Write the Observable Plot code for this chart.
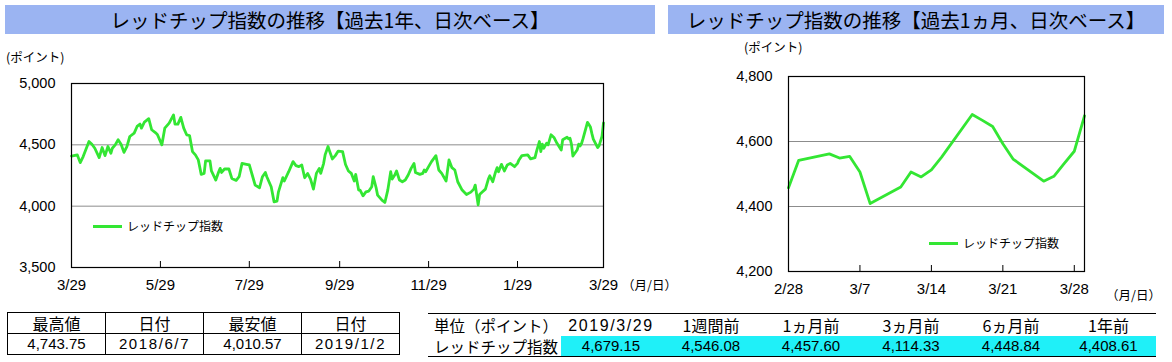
<!DOCTYPE html>
<html><head><meta charset="utf-8">
<script src="https://cdn.jsdelivr.net/npm/d3@7"></script>
<script src="https://cdn.jsdelivr.net/npm/@observablehq/plot@0.6"></script>
<style>
body{margin:0;background:#fff;font-family:"Noto Sans CJK JP",sans-serif;color:#000;}
#wrap{position:relative;width:1172px;height:362px;overflow:hidden;background:#fff;}
.abs{position:absolute;}
.title{background:#9bb4f2;height:29px;top:5px;font-size:19.5px;line-height:29px;text-align:center;white-space:nowrap;}
.unit{font-size:12.5px;line-height:16px;white-space:nowrap;}
.legend{font-size:12px;line-height:16px;white-space:nowrap;display:flex;align-items:center;}
.lg-line{display:inline-block;width:29px;height:3px;background:#33e633;margin-right:5px;}
table{border-collapse:collapse;}
#t1{left:7px;top:312px;}
#t1 td{border:1px solid #000;width:97px;height:20px;padding:0;text-align:center;line-height:20px;}
#t1 .h{font-size:16px;}
#t1 .v{font-family:"Liberation Sans",Arial,sans-serif;font-size:15px;}
#t2{left:428px;top:313px;border-top:1px solid #000;border-bottom:1px solid #000;}
#t2 td{padding:0;text-align:center;height:20px;line-height:20px;white-space:nowrap;}
#t2 .h{font-size:16px;}
#t2 .lab{text-align:left;padding-left:6px;width:127px;font-size:15.5px;}
#t2 .v{font-family:"Liberation Sans",Arial,sans-serif;font-size:15px;background:#1ff0f8;}
.date{font-family:"Liberation Sans",Arial,sans-serif;letter-spacing:1.6px;}
svg{position:absolute;top:0;}
</style></head>
<body>
<div id="wrap"></div>
<script>
const yearDates = ["2018-03-29","2018-04-02","2018-04-04","2018-04-06","2018-04-10","2018-04-12","2018-04-14","2018-04-17","2018-04-19","2018-04-21","2018-04-23","2018-04-25","2018-04-26","2018-04-28","2018-04-30","2018-05-02","2018-05-04","2018-05-06","2018-05-08","2018-05-11","2018-05-13","2018-05-15","2018-05-16","2018-05-18","2018-05-21","2018-05-23","2018-05-26","2018-05-27","2018-05-30","2018-06-01","2018-06-04","2018-06-07","2018-06-08","2018-06-10","2018-06-12","2018-06-14","2018-06-16","2018-06-18","2018-06-20","2018-06-22","2018-06-24","2018-06-26","2018-06-28","2018-06-29","2018-07-02","2018-07-03","2018-07-06","2018-07-08","2018-07-09","2018-07-10","2018-07-12","2018-07-15","2018-07-17","2018-07-20","2018-07-22","2018-07-24","2018-07-27","2018-07-29","2018-07-31","2018-08-02","2018-08-05","2018-08-07","2018-08-09","2018-08-10","2018-08-13","2018-08-15","2018-08-17","2018-08-18","2018-08-21","2018-08-22","2018-08-25","2018-08-28","2018-08-30","2018-09-01","2018-09-03","2018-09-05","2018-09-07","2018-09-09","2018-09-11","2018-09-13","2018-09-15","2018-09-16","2018-09-18","2018-09-19","2018-09-21","2018-09-22","2018-09-24","2018-09-26","2018-09-28","2018-10-01","2018-10-03","2018-10-05","2018-10-07","2018-10-09","2018-10-10","2018-10-12","2018-10-13","2018-10-15","2018-10-17","2018-10-19","2018-10-21","2018-10-22","2018-10-24","2018-10-25","2018-10-28","2018-10-30","2018-11-01","2018-11-03","2018-11-04","2018-11-06","2018-11-07","2018-11-09","2018-11-11","2018-11-13","2018-11-15","2018-11-17","2018-11-19","2018-11-20","2018-11-23","2018-11-25","2018-11-26","2018-11-27","2018-11-29","2018-12-01","2018-12-04","2018-12-06","2018-12-08","2018-12-11","2018-12-13","2018-12-15","2018-12-17","2018-12-19","2018-12-22","2018-12-25","2018-12-28","2018-12-30","2018-12-31","2019-01-02","2019-01-03","2019-01-05","2019-01-07","2019-01-09","2019-01-10","2019-01-12","2019-01-14","2019-01-15","2019-01-16","2019-01-18","2019-01-20","2019-01-22","2019-01-24","2019-01-27","2019-01-29","2019-01-30","2019-02-01","2019-02-05","2019-02-07","2019-02-10","2019-02-11","2019-02-13","2019-02-14","2019-02-15","2019-02-16","2019-02-18","2019-02-19","2019-02-21","2019-02-23","2019-02-25","2019-02-28","2019-03-01","2019-03-04","2019-03-05","2019-03-06","2019-03-07","2019-03-08","2019-03-11","2019-03-12","2019-03-13","2019-03-14","2019-03-15","2019-03-18","2019-03-19","2019-03-20","2019-03-21","2019-03-22","2019-03-25","2019-03-26","2019-03-27","2019-03-28","2019-03-29"];
const yearValues = [4408.61,4418,4355,4404,4527,4505,4472,4396,4478,4412,4486,4431,4472,4500,4541,4505,4439,4486,4568,4595,4650,4669,4636,4685,4713,4623,4595,4582,4500,4636,4677,4743.75,4669,4669,4724,4636,4582,4576,4445,4418,4377,4259,4267,4369,4369,4287,4213,4281,4308,4275,4303,4303,4226,4210,4240,4349,4341,4336,4254,4172,4150,4240,4275,4240,4158,4035,4041,4117,4232,4205,4281,4363,4330,4322,4336,4232,4267,4221,4139,4267,4308,4267,4349,4418,4486,4451,4385,4412,4448.84,4445,4340,4287,4267,4205,4259,4131,4131,4084,4117,4123,4158,4240,4150,4090,4049,4030,4131,4281,4221,4259,4287,4213,4199,4213,4254,4308,4349,4275,4259,4267,4295,4281,4322,4363,4412,4295,4267,4205,4377,4314,4295,4199,4131,4095,4114.33,4139,4172,4010.57,4095,4117,4139,4221,4248,4199,4281,4314,4281,4341,4287,4336,4349,4322,4349,4377,4412,4418,4385,4396,4445,4527,4445,4505,4472,4514,4500,4582,4560,4514,4457.60,4542,4562,4549,4554,4506,4409,4460,4506,4491,4513,4552,4683,4665,4646,4593,4546.08,4478,4493,4532,4570,4679.15];

const monthDates = ["2019-02-28","2019-03-01","2019-03-04","2019-03-05","2019-03-06","2019-03-07","2019-03-08","2019-03-11","2019-03-12","2019-03-13","2019-03-14","2019-03-15","2019-03-18","2019-03-19","2019-03-20","2019-03-21","2019-03-22","2019-03-25","2019-03-26","2019-03-27","2019-03-28","2019-03-29"];
const monthValues = [4457.60,4542,4562,4549,4554,4506,4409,4460,4506,4491,4513,4552,4683,4665,4646,4593,4546.08,4478,4493,4532,4570,4679.15];

const yearTicks = ["2018-03-29","2018-05-29","2018-07-29","2018-09-29","2018-11-29","2019-01-29","2019-03-29"];
const monthTicks = ["2019-02-28","2019-03-07","2019-03-14","2019-03-21","2019-03-28"];
const yearYTicks = [3500,4000,4500,5000];
const yearGrid = [4000,4500];
const monthYTicks = [4200,4400,4600,4800];
const monthGrid = [4400,4600];

const seriesName = "レッドチップ指数";
const titleYear = "レッドチップ指数の推移【過去1年、日次ベース】";
const titleMonth = "レッドチップ指数の推移【過去1ヵ月、日次ベース】";
const unitLabel = "(ポイント)";
const dateLabel = "（月/日）";

const summaryHeaders = ["最高値","日付","最安値","日付"];
const summaryValues = ["4,743.75","2018/6/7","4,010.57","2019/1/2"];
const compareHeaders = ["単位（ポイント）","2019/3/29","1週間前","1ヵ月前","3ヵ月前","6ヵ月前","1年前"];
const compareValues = ["4,679.15","4,546.08","4,457.60","4,114.33","4,448.84","4,408.61"];

const parse = d3.utcParse("%Y-%m-%d");
const yearData = yearDates.map((d, i) => ({date: parse(d), value: yearValues[i]}));
const monthData = monthDates.map((d, i) => ({date: parse(d), value: monthValues[i]}));
const fmtMD = d => `${d.getUTCMonth() + 1}/${d.getUTCDate()}`;
const GREEN = "#33e633";
const numFont = "'Liberation Sans', Arial, sans-serif";

function makeChart({data, ticks, yTicks, grid, width, height, ml, mr, mt, mb}) {
  const tickDates = ticks.map(parse);
  const plotH = height - mt - mb;
  const lastTick = tickDates[tickDates.length - 1];
  const lastData = d3.max(data, d => d.date);
  return Plot.plot({
    width, height, marginLeft: ml, marginRight: mr, marginTop: mt, marginBottom: mb,
    style: {background: "transparent", fontFamily: numFont, fontSize: "14px", color: "#000", overflow: "visible"},
    x: {type: "utc", domain: [tickDates[0], lastData > lastTick ? lastData : lastTick]},
    y: {domain: [yTicks[0], yTicks[yTicks.length - 1]]},
    marks: [
      Plot.ruleY(grid, {stroke: "#8c8c8c", strokeWidth: 1}),
      Plot.line(data, {x: "date", y: "value", stroke: GREEN, strokeWidth: 2.8, strokeLinejoin: "round"}),
      Plot.frame({stroke: "#000", strokeWidth: 1.2}),
      Plot.tickX(tickDates, {x: d => d, stroke: "#000", insetTop: plotH - 6}),
      Plot.axisX(tickDates, {tickSize: 0, tickPadding: 12, tickFormat: fmtMD, fontSize: 15, label: null}),
      Plot.axisY(yTicks, {tickSize: 0, tickPadding: 16, tickFormat: d3.format(","), fontSize: 14.5, label: null})
    ]
  });
}

const wrap = document.getElementById("wrap");

const left = makeChart({data: yearData, ticks: yearTicks, yTicks: yearYTicks, grid: yearGrid,
  width: 660, height: 300, ml: 71, mr: 57, mt: 83, mb: 33});
left.style.left = "0px";
wrap.appendChild(left);

const right = makeChart({data: monthData, ticks: monthTicks, yTicks: monthYTicks, grid: monthGrid,
  width: 512, height: 300, ml: 128, mr: 88, mt: 76, mb: 29});
right.style.left = "660px";
wrap.appendChild(right);

function add(html, cls, style) {
  const el = document.createElement("div");
  el.className = "abs " + cls;
  el.innerHTML = html;
  Object.assign(el.style, style);
  wrap.appendChild(el);
  return el;
}
add(titleYear, "title", {left: "5px", width: "650px"});
add(titleMonth, "title", {left: "668px", width: "496px"});
add(unitLabel, "unit", {left: "6px", top: "49px"});
add(unitLabel, "unit", {left: "744px", top: "39px"});
add(dateLabel, "unit", {left: "622px", top: "277px"});
add(dateLabel, "unit", {left: "1106px", top: "287px"});
add(`<span class="lg-line"></span><span>${seriesName}</span>`, "legend", {left: "93px", top: "218px"});
add(`<span class="lg-line"></span><span>${seriesName}</span>`, "legend", {left: "929px", top: "235px"});

const isDate = s => /^\d+\/\d+\/\d+$/.test(s);
const t1 = document.createElement("table");
t1.id = "t1"; t1.className = "abs";
t1.innerHTML = `<tr>${summaryHeaders.map(h => `<td class="h">${h}</td>`).join("")}</tr>` +
  `<tr>${summaryValues.map(v => `<td class="v"><span class="${isDate(v) ? "date" : ""}">${v}</span></td>`).join("")}</tr>`;
wrap.appendChild(t1);

const colW = [133, 100, 100, 100, 100, 100, 95];
const t2 = document.createElement("table");
t2.id = "t2"; t2.className = "abs";
t2.innerHTML = `<tr>${compareHeaders.map((h, i) => `<td class="${i === 0 ? "lab" : "h"}" style="width:${i === 0 ? colW[0] - 6 : colW[i]}px"><span class="${isDate(h) ? "date" : ""}">${h}</span></td>`).join("")}</tr>` +
  `<tr><td class="lab">${seriesName}</td>${compareValues.map(v => `<td class="v">${v}</td>`).join("")}</tr>`;
wrap.appendChild(t2);
</script>
</body></html>
